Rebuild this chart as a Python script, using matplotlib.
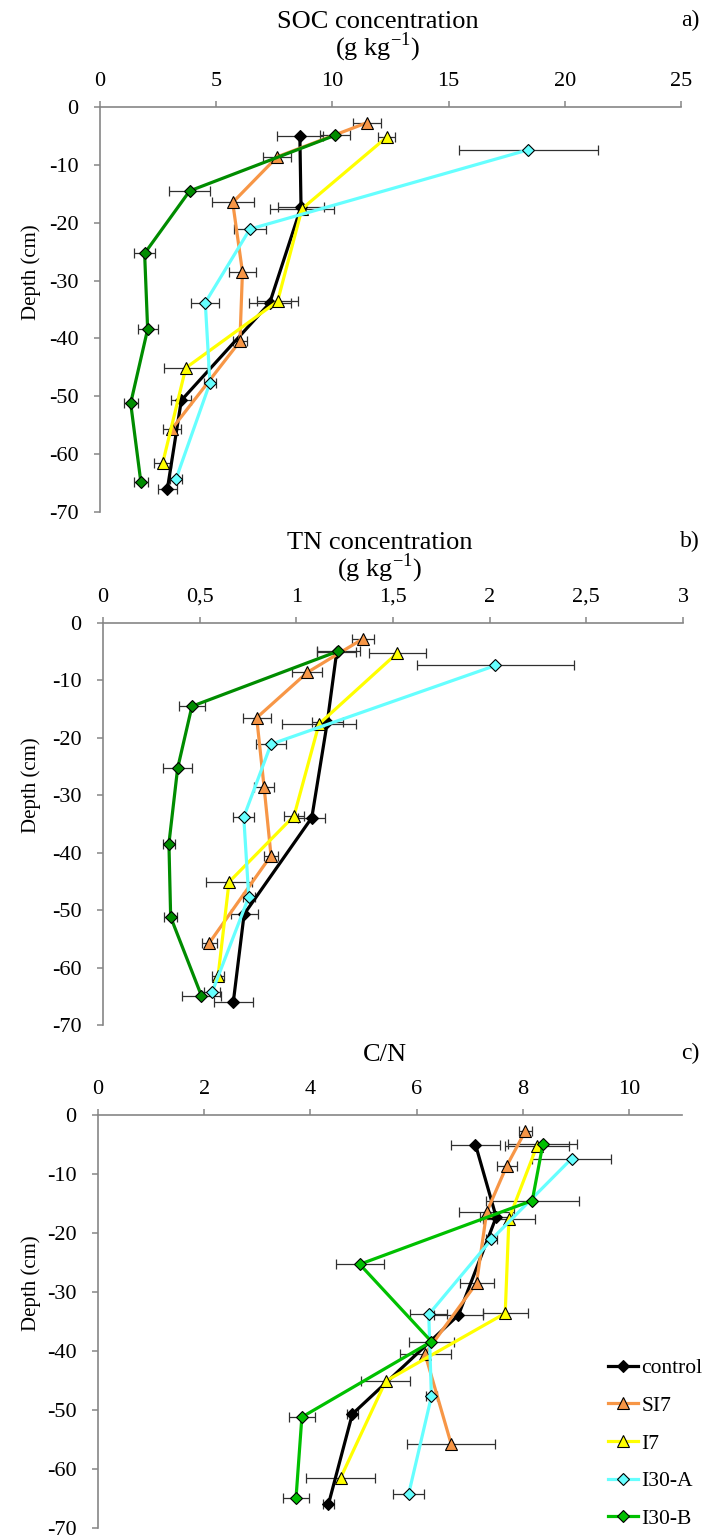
import numpy as np
import matplotlib
matplotlib.use("Agg")
from matplotlib import pyplot as plt

plt.rcParams['font.family'] = ['Liberation Serif', 'DejaVu Serif']
plt.rcParams['mathtext.fontset'] = 'custom'
plt.rcParams['mathtext.rm'] = 'Liberation Serif'

# sampling depths (cm) per treatment
depth_control = [-5.0, -17.3, -33.9, -50.7, -66.0]
depth_si7 = [-2.7, -8.6, -16.5, -28.5, -40.5, -55.7]
depth_i7 = [-5.2, -17.6, -33.6, -45.1, -61.5]
depth_i30a = [-7.4, -21.1, -33.8, -47.7, -64.3]
depth_i30b = [-4.9, -14.5, -25.3, -38.4, -51.2, -64.9]

# a) SOC (g/kg)
soc_control = [8.6, 8.65, 7.3, 3.5, 2.9]
soc_control_err = [1.0, 1.0, 0.9, 0.43, 0.42]
soc_si7 = [11.5, 7.63, 5.71, 6.13, 6.02, 3.08]
soc_si7_err = [0.6, 0.6, 0.9, 0.57, 0.3, 0.39]
soc_i7 = [12.34, 8.69, 7.64, 3.69, 2.7]
soc_i7_err = [0.37, 1.38, 0.87, 0.95, 0.36]
soc_i30a = [18.43, 6.45, 4.53, 4.73, 3.27]
soc_i30a_err = [3.0, 0.68, 0.6, 0.25, 0.25]
soc_i30b = [10.11, 3.86, 1.92, 2.05, 1.32, 1.76]
soc_i30b_err = [0.65, 0.87, 0.46, 0.43, 0.3, 0.3]

# b) TN (g/kg)
tn_control = [1.209, 1.16, 1.08, 0.73, 0.674]
tn_control_err = [0.1, 0.08, 0.07, 0.07, 0.1]
tn_si7 = [1.347, 1.057, 0.795, 0.833, 0.869, 0.55]
tn_si7_err = [0.057, 0.077, 0.073, 0.05, 0.035, 0.04]
tn_i7 = [1.523, 1.117, 0.988, 0.652, 0.595]
tn_i7_err = [0.147, 0.19, 0.05, 0.12, 0.03]
tn_i30a = [2.03, 0.869, 0.728, 0.754, 0.564]
tn_i30a_err = [0.405, 0.08, 0.055, 0.03, 0.04]
tn_i30b = [1.217, 0.46, 0.386, 0.341, 0.35, 0.509]
tn_i30b_err = [0.11, 0.065, 0.075, 0.03, 0.035, 0.1]

# c) C/N
cn_control = [7.11, 7.5, 6.79, 4.79, 4.34]
cn_control_err = [0.46, 0.3, 0.47, 0.1, 0.1]
cn_si7 = [8.05, 7.7, 7.32, 7.13, 6.16, 6.65]
cn_si7_err = [0.12, 0.19, 0.52, 0.32, 0.48, 0.83]
cn_i7 = [8.27, 7.74, 7.67, 5.42, 4.57]
cn_i7_err = [0.6, 0.49, 0.42, 0.46, 0.65]
cn_i30a = [8.92, 7.41, 6.23, 6.28, 5.85]
cn_i30a_err = [0.74, 0.1, 0.35, 0.1, 0.29]
cn_i30b = [8.38, 8.18, 4.93, 6.28, 3.84, 3.73]
cn_i30b_err = [0.65, 0.88, 0.45, 0.42, 0.25, 0.24]

names = ['control', 'SI7', 'I7', 'I30-A', 'I30-B']
depths = [depth_control, depth_si7, depth_i7, depth_i30a, depth_i30b]
colors = ['black', '#F79646', '#FFFF00', '#66FFFF', '#008C00']
markers = ['D', '^', '^', 'D', 'D']
msizes = [6.5, 9, 9, 6.5, 6.5]

depth_ticks = [0, -10, -20, -30, -40, -50, -60, -70]
soc_ticks = [0, 5, 10, 15, 20, 25]
soc_ticklabels = ['0', '5', '10', '15', '20', '25']
tn_ticks = [0, 0.5, 1, 1.5, 2, 2.5, 3]
tn_ticklabels = ['0', '0,5', '1', '1,5', '2', '2,5', '3']
cn_ticks = [0, 2, 4, 6, 8, 10]
cn_ticklabels = ['0', '2', '4', '6', '8', '10']

W, H = 705, 1539
fig = plt.figure(figsize=(W / 100, H / 100), dpi=100)
axgray = '#868686'


def px_axes(left, top, right, bottom):
    return fig.add_axes([left / W, 1 - bottom / H, (right - left) / W, (bottom - top) / H])


def draw_panel(ax, vals, errs, xmax, ticks, ticklabels, green):
    lines = []
    for i in range(5):
        ax.errorbar(vals[i], depths[i], xerr=errs[i], fmt='none', ecolor='#303030',
                    elinewidth=0.9, capsize=3.5, capthick=0.9, zorder=2)
        c = green if i == 4 else colors[i]
        ln, = ax.plot(vals[i], depths[i], color=c, lw=2.3, marker=markers[i],
                      ms=msizes[i], mfc=c, mec='black', mew=0.8, zorder=3, label=names[i])
        lines.append(ln)
    ax.set_xlim(0, xmax)
    ax.set_ylim(-70, 0)
    ax.set_xticks(ticks)
    ax.set_xticklabels(ticklabels)
    ax.set_yticks(depth_ticks)
    ax.set_yticklabels([str(t) for t in depth_ticks])
    ax.xaxis.tick_top()
    for s in ['right', 'bottom']:
        ax.spines[s].set_visible(False)
    for s in ['left', 'top']:
        ax.spines[s].set_color(axgray)
        ax.spines[s].set_linewidth(1.2)
    ax.tick_params(axis='x', direction='out', length=4.5, width=1.1, color=axgray,
                   labelsize=16, pad=7)
    ax.tick_params(axis='y', direction='out', length=4.5, width=1.1, color=axgray,
                   labelsize=16, pad=11)
    ax.patch.set_alpha(0)
    return lines


ax1 = px_axes(100, 107, 681, 512)
draw_panel(ax1, [soc_control, soc_si7, soc_i7, soc_i30a, soc_i30b],
           [soc_control_err, soc_si7_err, soc_i7_err, soc_i30a_err, soc_i30b_err],
           25, soc_ticks, soc_ticklabels, '#008C00')

ax2 = px_axes(103, 623, 683, 1025)
draw_panel(ax2, [tn_control, tn_si7, tn_i7, tn_i30a, tn_i30b],
           [tn_control_err, tn_si7_err, tn_i7_err, tn_i30a_err, tn_i30b_err],
           3, tn_ticks, tn_ticklabels, '#008C00')

ax3 = px_axes(98, 1115, 682, 1528)
handles = draw_panel(ax3, [cn_control, cn_si7, cn_i7, cn_i30a, cn_i30b],
                     [cn_control_err, cn_si7_err, cn_i7_err, cn_i30a_err, cn_i30b_err],
                     11, cn_ticks, cn_ticklabels, '#00C000')


def ftext(x, y, s, **kw):
    fig.text(x / W, 1 - y / H, s, **kw)


ftext(378, 22, 'SOC concentration', ha='center', va='center', fontsize=19)
ftext(378, 47, r'(g kg$^{\mathrm{-1}}$)', ha='center', va='center', fontsize=19)
ftext(700, 20, 'a)', ha='right', va='center', fontsize=17)

ftext(380, 543, 'TN concentration', ha='center', va='center', fontsize=19)
ftext(380, 568, r'(g kg$^{\mathrm{-1}}$)', ha='center', va='center', fontsize=19)
ftext(700, 541, 'b)', ha='right', va='center', fontsize=17)

ftext(385, 1055, 'C/N', ha='center', va='center', fontsize=19)
ftext(700, 1053, 'c)', ha='right', va='center', fontsize=17)

for yc in [272, 785, 1283]:
    ftext(31, yc, 'Depth (cm)', ha='center', va='center', rotation=90, fontsize=15)

fig.legend(handles=handles, loc='upper left', bbox_to_anchor=(608 / W, 1 - 1358 / H),
           frameon=False, fontsize=15.5, numpoints=1, handlelength=1.4, handletextpad=0.15,
           labelspacing=0.82, borderpad=0, borderaxespad=0)

fig.savefig('out.png', dpi=100)
